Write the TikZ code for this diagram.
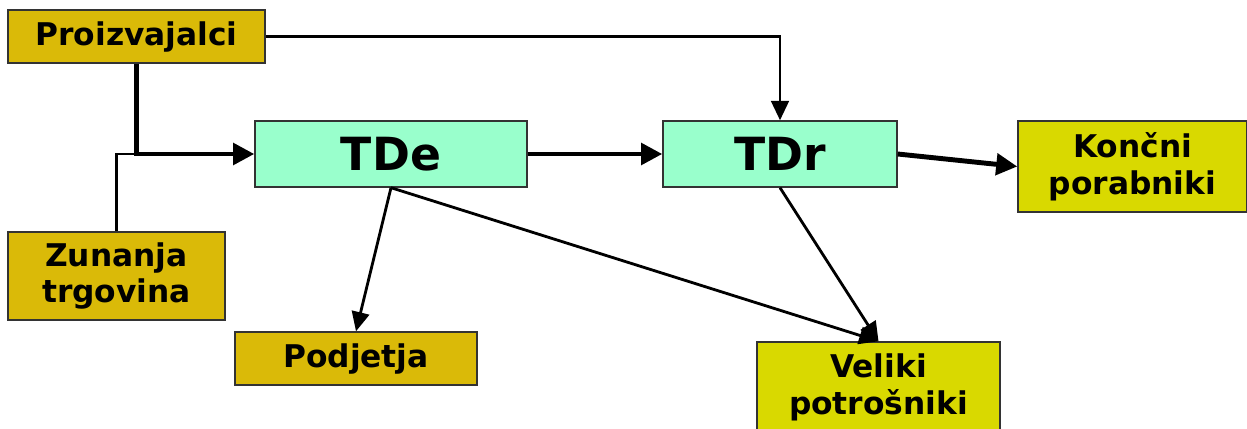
\documentclass[tikz,border=0pt]{standalone}
\usepackage{fontspec}
\setmainfont{DejaVu Sans}
\usepackage{tikz}
\usetikzlibrary{arrows, arrows.meta, positioning}
\definecolor{goldbox}{RGB}{218,186,8}
\definecolor{limebox}{RGB}{217,217,0}
\definecolor{mintbox}{RGB}{153,255,204}
\tikzstyle{source} = [rectangle, text centered, draw=black!80, thick, fill=goldbox, inner sep=0pt]
\tikzstyle{process} = [rectangle, text centered, draw=black!80, thick, fill=mintbox, inner sep=0pt]
\tikzstyle{sink} = [rectangle, text centered, draw=black!80, thick, fill=limebox, inner sep=0pt]
\tikzstyle{arrow} = [line width=1.6pt, -{Triangle[length=11pt, width=10pt]}]
\tikzstyle{bigarrow} = [line width=2.8pt, -{Triangle[length=12pt, width=12pt]}]
\tikzset{
  font={\fontsize{17.8pt}{21pt}\selectfont\bfseries}}

\begin{document}
\begin{tikzpicture}[node distance = 2cm]
    \useasboundingbox (0,0) rectangle (24.94,-8.58);

    \node (producers) [source, minimum width=5.14cm, minimum height=1.06cm] at (2.73,-0.73) {Proizvajalci};
    \node (trade) [source, minimum width=4.34cm, minimum height=1.76cm, text width=4.2cm, align=center] at (2.33,-5.52) {Zunanja\\trgovina};
    \node (tde) [process, minimum width=5.44cm, minimum height=1.32cm, font={\fontsize{26pt}{30pt}\selectfont\bfseries}] at (7.82,-3.08) {TDe};
    \node (tdr) [process, right of=tde, xshift=5.78cm, minimum width=4.68cm, minimum height=1.32cm, font={\fontsize{26pt}{30pt}\selectfont\bfseries}] {TDr};
    \node (consumers) [sink, minimum width=4.58cm, minimum height=1.82cm, text width=4.4cm, align=center] at (22.65,-3.33) {Končni\\porabniki};
    \node (firms) [source, minimum width=4.84cm, minimum height=1.06cm] at (7.12,-7.17) {Podjetja};
    \node (large) [sink, minimum width=4.86cm, minimum height=1.8cm, text width=4.6cm, align=center] at (17.57,-7.74) {Veliki\\potrošniki};

    \coordinate (join) at (producers.south |- tde.west);

    \draw [bigarrow] (producers.south) |- (tde.west);
    \draw [line width=1.6pt] (trade.north) |- (join);
    \draw [arrow] (producers.east) -| (tdr.north);
    \draw [bigarrow] (tde) -- (tdr);
    \draw [bigarrow] (tdr.east) -- (consumers.west);
    \draw [arrow] (tde.south) -- (firms.north);
    \draw [arrow] (tde.south) -- (large.north);
    \draw [arrow] (tdr.south) -- (large.north);
\end{tikzpicture}
\end{document}
